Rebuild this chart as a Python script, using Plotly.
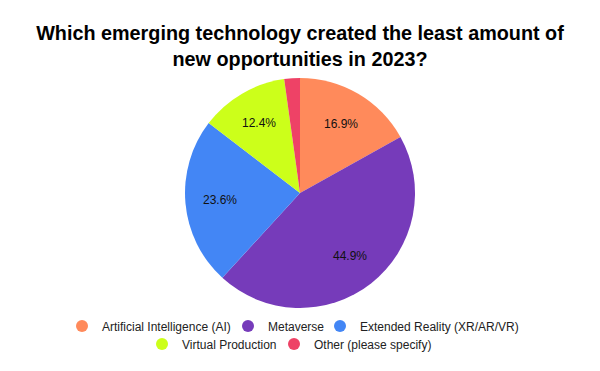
import math
import plotly.graph_objects as go

categories = ["Artificial Intelligence (AI)", "Metaverse", "Extended Reality (XR/AR/VR)",
              "Virtual Production", "Other (please specify)"]
values = [16.9, 44.9, 23.6, 12.4, 2.2]
colors = ["#FF8A5B", "#763BBA", "#4386F5", "#CCFF1A", "#EE4266"]
show_label = [True, True, True, True, False]

FONT = "Liberation Sans, Arial, sans-serif"
W, H = 600, 371
PIE_TOP, PIE_BOTTOM = 78, 308          # pie domain in px from top
LABEL_RADIUS = 0.70                    # label distance as fraction of radius

# legend entry placement (text start x px, row centre y px)
legend_ids = ["legend", "legend2", "legend3", "legend4", "legend5"]
legend_text_x = [102, 268, 360, 182, 314]
legend_row_y = [326, 326, 326, 344, 344]

fig = go.Figure()
fig.add_trace(go.Pie(
    labels=categories, values=values, sort=False, direction="clockwise", rotation=0,
    marker=dict(colors=colors, line=dict(width=0)),
    textinfo="none",
    showlegend=False, hoverinfo="label+percent",
    domain=dict(x=[0, 1], y=[1 - PIE_BOTTOM / H, 1 - PIE_TOP / H]),
))
for cat, col, lg in zip(categories, colors, legend_ids):
    fig.add_trace(go.Scatter(
        x=[None], y=[None], mode="markers", name=cat, legend=lg,
        marker=dict(color=col, size=12, symbol="circle"),
    ))

# percentage labels placed along each slice's bisector (derived from the values)
total = sum(values)
cx, cy = W / 2, (PIE_TOP + PIE_BOTTOM) / 2
r = (PIE_BOTTOM - PIE_TOP) / 2
annotations = []
cum = 0.0
for v, show in zip(values, show_label):
    mid = (cum + v / 2) / total * 2 * math.pi
    cum += v
    if not show:
        continue
    px = cx + math.sin(mid) * r * LABEL_RADIUS
    py = cy - math.cos(mid) * r * LABEL_RADIUS
    annotations.append(dict(
        x=px / W, y=1 - py / H, xref="paper", yref="paper",
        text=f"{v / total * 100:.1f}%", showarrow=False,
        xanchor="center", yanchor="middle",
        font=dict(family=FONT, size=12, color="#111111"),
    ))

legends = {}
for lg, tx, ry in zip(legend_ids, legend_text_x, legend_row_y):
    legends[lg] = dict(orientation="h", xanchor="left", x=(tx - 40) / W,
                       yanchor="middle", y=1 - ry / H,
                       font=dict(family=FONT, size=12, color="#222222"),
                       bgcolor="rgba(0,0,0,0)", itemclick=False, itemdoubleclick=False)

fig.update_layout(
    width=W, height=H,
    margin=dict(l=0, r=0, t=0, b=0),
    paper_bgcolor="white", plot_bgcolor="white",
    title=dict(text="<b>Which emerging technology created the least amount of<br>new opportunities in 2023?</b>",
               x=0.5, xanchor="center", y=1 - 40 / H, yanchor="top",
               font=dict(family=FONT, size=19.8, color="#000000")),
    xaxis=dict(visible=False), yaxis=dict(visible=False),
    annotations=annotations,
    **legends,
)
fig.write_html("out.html", config={"displayModeBar": False},
               post_script="document.body.style.margin='0';document.body.style.padding='0';")
